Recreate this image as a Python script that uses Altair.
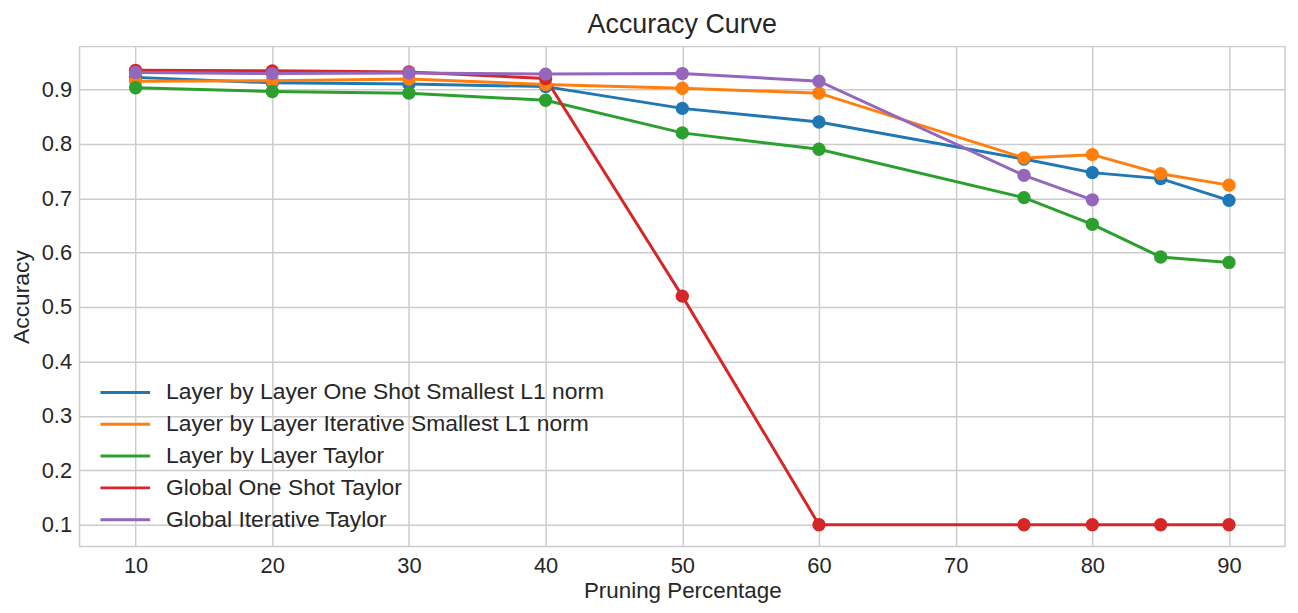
import altair as alt
import pandas as pd

x_vals = [10, 20, 30, 40, 50, 60, 75, 80, 85, 90]
series_names = [
    "Layer by Layer One Shot Smallest L1 norm",
    "Layer by Layer Iterative Smallest L1 norm",
    "Layer by Layer Taylor",
    "Global One Shot Taylor",
    "Global Iterative Taylor",
]
colors = ["#1f77b4", "#ff7f0e", "#2ca02c", "#d62728", "#9467bd"]

blue_y = [0.922, 0.912, 0.910, 0.905, 0.865, 0.840, 0.772, 0.747, 0.736, 0.696]
orange_y = [0.915, 0.916, 0.919, 0.909, 0.902, 0.893, 0.774, 0.780, 0.745, 0.724]
green_y = [0.903, 0.896, 0.893, 0.880, 0.820, 0.790, 0.701, 0.652, 0.592, 0.582]
red_y = [0.935, 0.934, 0.932, 0.920, 0.520, 0.100, 0.100, 0.100, 0.100, 0.100]
purple_x = [10, 20, 30, 40, 50, 60, 75, 80]
purple_y = [0.931, 0.929, 0.930, 0.928, 0.929, 0.915, 0.742, 0.697]

rows = []
for name, xs, ys in [
    (series_names[0], x_vals, blue_y),
    (series_names[1], x_vals, orange_y),
    (series_names[2], x_vals, green_y),
    (series_names[3], x_vals, red_y),
    (series_names[4], purple_x, purple_y),
]:
    for i, (xv, yv) in enumerate(zip(xs, ys)):
        rows.append({"series": name, "x": xv, "y": yv, "idx": i})
df = pd.DataFrame(rows)

FONT = "Liberation Sans"
GRID = "#cccccc"
TXT = "#262626"

x_enc = alt.X(
    "x:Q",
    scale=alt.Scale(domain=[5.9, 94.1], nice=False, zero=False),
    axis=alt.Axis(
        values=[10, 20, 30, 40, 50, 60, 70, 80, 90],
        title="Pruning Percentage",
        labelFontSize=22, titleFontSize=22.5, titleFontWeight="normal",
        labelColor=TXT, titleColor=TXT,
        ticks=False, domain=False, labelPadding=9, titlePadding=3,
        grid=True, gridColor=GRID, gridWidth=1.5,
        labelFont=FONT, titleFont=FONT,
    ),
)
y_enc = alt.Y(
    "y:Q",
    scale=alt.Scale(domain=[0.06, 0.9785], nice=False, zero=False),
    axis=alt.Axis(
        values=[0.1, 0.2, 0.3, 0.4, 0.5, 0.6, 0.7, 0.8, 0.9],
        format=".1f",
        title="Accuracy",
        labelFontSize=22, titleFontSize=23, titleFontWeight="normal",
        labelColor=TXT, titleColor=TXT,
        ticks=False, domain=False, labelPadding=8, titlePadding=8,
        grid=True, gridColor=GRID, gridWidth=1.5,
        labelFont=FONT, titleFont=FONT,
    ),
)
color_enc = alt.Color(
    "series:N",
    scale=alt.Scale(domain=series_names, range=colors),
    sort=series_names,
    legend=alt.Legend(
        title=None, orient="none", legendX=32, legendY=334,
        symbolType="M-2,0L2,0", symbolSize=625, symbolStrokeWidth=3,
        labelFontSize=23, labelFont=FONT, labelColor=TXT, labelLimit=800,
        rowPadding=6, labelOffset=27,
    ),
)

base = alt.Chart(df)
lines = base.mark_line(strokeWidth=3).encode(
    x=x_enc, y=y_enc, color=color_enc, order="idx:Q", detail="series:N"
)
points = base.mark_circle(size=180, opacity=1).encode(
    x=x_enc, y=y_enc,
    color=alt.Color("series:N", scale=alt.Scale(domain=series_names, range=colors), legend=None),
)

chart = (
    alt.layer(lines, points)
    .properties(
        width=1213, height=503,
        title=alt.TitleParams("Accuracy Curve", fontSize=27, font=FONT, fontWeight="normal",
                              color=TXT, offset=8),
        autosize=alt.AutoSizeParams(type="none"),
        padding={"left": 72, "top": 37, "right": 5, "bottom": 57},
    )
    .configure_view(stroke=GRID, strokeWidth=1.5)
)

chart.save("out.html", embed_options={"renderer": "svg", "actions": False})
